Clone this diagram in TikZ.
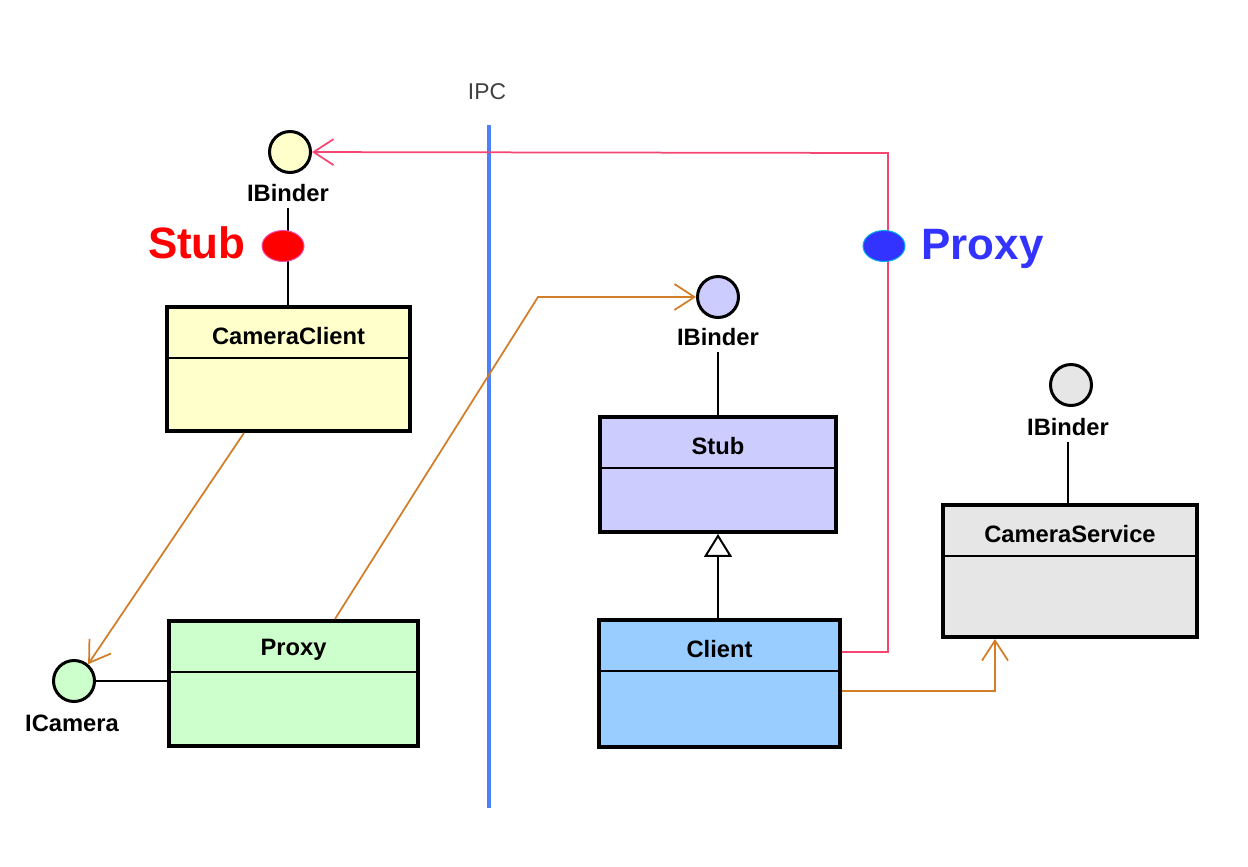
\documentclass[tikz,border=0pt]{standalone}
\usepackage{fontspec}
\setmainfont{Liberation Sans}
\usetikzlibrary{arrows.meta, positioning, shapes.geometric, calc}
\definecolor{ClientYellow}{RGB}{255,255,204}
\definecolor{ProxyGreen}{RGB}{204,255,204}
\definecolor{StubLilac}{RGB}{204,204,255}
\definecolor{ClientBlue}{RGB}{153,204,255}
\definecolor{ServiceGray}{RGB}{230,230,230}
\definecolor{DepOrange}{RGB}{210,125,40}
\definecolor{CallPink}{RGB}{245,70,115}
\definecolor{IPCBlue}{RGB}{77,128,255}
\definecolor{TagBlue}{RGB}{51,51,255}
\begin{document}
\begin{tikzpicture}[x=0.02cm, y=-0.02cm,
  cls/.style={draw=black, line width=0.07cm, inner sep=0pt},
  clsname/.style={font=\fontsize{13.5}{16}\selectfont\bfseries},
  lolli/.style={circle, draw=black, line width=0.06cm, minimum size=0.82cm, inner sep=0pt},
  link/.style={draw=black, line width=0.04cm},
  dep/.style={draw=DepOrange, line width=0.035cm, -{Straight Barb[length=0.4cm, width=0.52cm]}},
  call/.style={draw=CallPink, line width=0.035cm, -{Straight Barb[length=0.4cm, width=0.52cm]}},
  dot/.style={ellipse, line width=0.02cm, minimum width=0.84cm, minimum height=0.62cm, inner sep=0pt},
  tag/.style={font=\fontsize{25}{30}\selectfont\bfseries, inner sep=0pt}]
  \useasboundingbox (0,0) rectangle (1248,866);

  % process boundary
  \node[font=\fontsize{13}{15}\selectfont, text=black!75] (ipc) at (487,92) {IPC};
  \coordinate (ipctop) at (489,125);
  \coordinate (ipcbot) at (489,808);
  \draw[IPCBlue, line width=0.08cm] (ipctop) -- (ipcbot);

  % classes
  \node[cls, fill=ClientYellow, minimum width=4.87cm, minimum height=2.49cm] (cc) at (288.5,369) {};
  \node[cls, fill=ProxyGreen, minimum width=4.99cm, minimum height=2.51cm] (px) at (293.5,683.5) {};
  \node[cls, fill=StubLilac, minimum width=4.73cm, minimum height=2.31cm] (st) at (718,474.5) {};
  \node[cls, fill=ClientBlue, minimum width=4.83cm, minimum height=2.55cm] (cl) at (719.5,683.5) {};
  \node[cls, fill=ServiceGray, minimum width=5.09cm, minimum height=2.65cm] (cs) at (1070,571) {};
  \foreach \b/\t in {cc/CameraClient, px/Proxy, st/Stub, cl/Client, cs/CameraService} {
    \draw[line width=0.03cm] ($(\b.north west)+(0,53)$) -- ($(\b.north east)+(0,53)$);
    \node[clsname] (\b-name) at ($(\b.north)+(0,31)$) {\t};
  }

  % interfaces
  \node[lolli, fill=ClientYellow] (ib1) at (290,152) {};
  \node[clsname] (ib1-lbl) at (288,193) {IBinder};
  \node[lolli, fill=StubLilac] (ib2) at (718,297) {};
  \node[clsname] (ib2-lbl) at (718,337) {IBinder};
  \node[lolli, fill=ServiceGray] (ib3) at (1071,385) {};
  \node[clsname] (ib3-lbl) at (1068,427) {IBinder};
  \node[lolli, fill=ProxyGreen] (icam) at (74,681) {};
  \node[clsname] (icam-lbl) at (72,723) {ICamera};

  \draw[link] (ib1-lbl.south) -- (ib1-lbl.south |- cc.north);
  \draw[link] (ib2-lbl.south) -- (st.north);
  \draw[link] (ib3-lbl.south) -- (ib3-lbl.south |- cs.north);
  \draw[link] (icam.east) -- (icam.east -| px.west);
  \draw[link, -{Triangle[open, length=0.46cm, width=0.56cm, fill=white]}] (st.south |- cl.north) -- (st.south);

  % dependencies
  \coordinate (bend) at (538,297);
  \coordinate (turn) at (888,153);
  \draw[dep] ($(cc.south)+(-44.5,0)$) -- (icam.50);
  \draw[dep] ($(px.north)+(41.5,0)$) -- (bend) -- (ib2);
  \draw[dep] ($(cl.east)+(0,7.5)$) -| ($(cs.south)+(-75,0)$);
  \draw[call] ($(cl.east)+(0,-31.5)$) -| (turn) -- (ib1);

  % roles
  \node[dot, fill=red, draw=magenta!70] (stubdot) at (283,246) {};
  \node[tag, text=red, anchor=base east] (stub-tag) at (246,258) {Stub};
  \node[dot, fill=TagBlue, draw=cyan] (proxydot) at (884,246) {};
  \node[tag, text=TagBlue, anchor=base west] (proxy-tag) at (921,259) {Proxy};
\end{tikzpicture}
\end{document}
